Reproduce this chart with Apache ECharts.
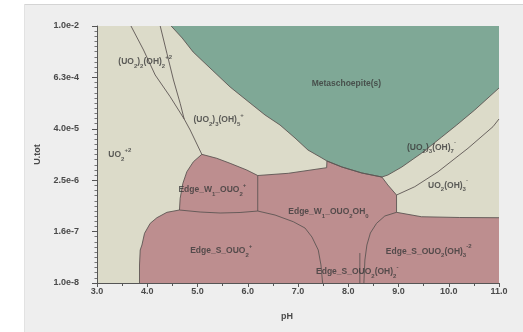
<!DOCTYPE html>
<html><head><meta charset="utf-8">
<script src="https://cdn.jsdelivr.net/npm/echarts@6/dist/echarts.min.js"></script>
<style>html,body{margin:0;padding:0;background:#ffffff;}#c{width:523px;height:332px;}</style>
</head><body><div id="c"></div>
<script>
// Axis ranges (x = pH, y = log10 of U.tot)
const xMin = 3, xMax = 11, xStep = 1;
const yMin = -8, yMax = -2, yStep = 1.2;
const yTickLabels = ['1.0e-8', '1.6e-7', '2.5e-6', '4.0e-5', '6.3e-4', '1.0e-2'];

// Boundary of Metaschoepite(s) field: [pH, log10 U]
const greenBoundary = [
  [4.476, -2.000], [4.695, -2.280], [4.913, -2.607], [5.291, -3.027], [5.649, -3.424],
  [6.046, -3.798], [6.344, -4.078], [6.642, -4.311], [6.940, -4.615], [7.198, -4.895],
  [7.476, -5.082], [7.576, -5.152], [7.874, -5.292], [8.272, -5.432], [8.669, -5.526],
  [8.788, -5.479], [9.066, -5.292], [9.463, -4.965], [9.861, -4.592], [10.159, -4.311],
  [10.517, -3.961], [11.000, -3.448]
];
// Outer boundary of the surface-complex (Edge_*) fields
const pinkBoundary = [
  [3.846, -8.000], [3.846, -7.580], [3.860, -7.230], [3.894, -7.113], [3.946, -6.840],
  [4.059, -6.607], [4.192, -6.476], [4.391, -6.350], [4.641, -6.296], [4.655, -6.023],
  [4.709, -5.673], [4.788, -5.402], [4.919, -5.168], [5.086, -4.996], [5.384, -5.089],
  [5.649, -5.206], [5.980, -5.362], [6.199, -5.491], [6.807, -5.439], [7.570, -5.308],
  [7.576, -5.152], [7.874, -5.292], [8.272, -5.432], [8.669, -5.526], [8.788, -5.712],
  [8.961, -5.946], [8.961, -6.350], [9.457, -6.453], [10.218, -6.471], [11.000, -6.476]
];
// Internal field boundaries
const lineUO2_UO235 = [[3.676, -2.000], [3.926, -2.560], [4.158, -3.144], [4.456, -3.651], [4.735, -4.171], [4.854, -4.428], [5.086, -4.996]];
const lineUO222 = [[4.258, -2.000], [4.391, -2.637], [4.522, -3.261], [4.655, -3.805], [4.735, -4.171]];
const lineUO237_OH3 = [[8.961, -5.946], [9.324, -5.752], [9.787, -5.402], [10.383, -4.855], [10.880, -4.351], [11.000, -4.171]];
const lineW1plus_W1OH = [[6.199, -5.491], [6.199, -6.320]];
const lineW1_S = [[4.641, -6.296], [5.053, -6.343], [5.450, -6.366], [5.847, -6.354], [6.199, -6.320]];
const lineS_left = [[6.199, -6.320], [6.543, -6.413], [6.906, -6.569], [7.139, -6.716], [7.278, -6.927], [7.403, -7.230], [7.457, -7.580], [7.490, -8.000]];
const lineS_right = [[8.961, -6.350], [8.728, -6.436], [8.563, -6.607], [8.440, -6.833], [8.371, -7.113], [8.331, -7.464], [8.311, -8.000]];
const lineS_sliver = [[8.231, -7.300], [8.231, -8.000]];

// Field labels: [pH, log10 U] of label's left edge, and rich text
const labelPos = [
  [3.425, -2.841], [4.919, -4.195], [3.225, -5.012], [7.272, -3.338],
  [9.170, -4.830], [9.589, -5.720], [4.621, -5.829], [4.854, -7.253],
  [6.807, -6.328], [8.748, -7.257], [7.359, -7.737]
];
const labelText = [
  '(UO{s|2}){s|2}(OH){s|2}{p|+2}',
  '(UO{s|2}){s|3}(OH){s|5}{p|+}',
  'UO{s|2}{p|+2}',
  'Metaschoepite(s)',
  '(UO{s|2}){s|3}(OH){s|7}{p|-}',
  'UO{s|2}(OH){s|3}{p|-}',
  'Edge_W{s|1}_OUO{s|2}{p|+}',
  'Edge_S_OUO{s|2}{p|+}',
  'Edge_W{s|1}_OUO{s|2}OH{s|0}',
  'Edge_S_OUO{s|2}(OH){s|3}{p|-2}',
  'Edge_S_OUO{s|2}(OH){s|2}{p|-}'
];

const FONT = 'Arial, "Liberation Sans", Helvetica, sans-serif';
const BEIGE = '#dcdbc9', GREEN = '#7fa896', PINK = '#bd8e8f', EDGE = '#5e5653';
const TXT = '#3a3a3a', AXT = '#4a4a4a';

const regions = [
  { pts: pinkBoundary.concat([[xMax, yMin]]), color: PINK },
  { pts: greenBoundary.concat([[xMax, yMax]]), color: GREEN }
];

const boundaryLines = [greenBoundary, pinkBoundary, lineUO2_UO235, lineUO222, lineUO237_OH3,
  lineW1plus_W1OH, lineW1_S, lineS_left, lineS_right, lineS_sliver];

const chart = echarts.init(document.getElementById('c'), null, { renderer: 'canvas' });

const series = [{
  type: 'custom', coordinateSystem: 'cartesian2d', silent: true, z: 1,
  data: regions.map((r, i) => [r.pts[0][0], r.pts[0][1], i]),
  renderItem: function (params, api) {
    const r = regions[params.dataIndex];
    return { type: 'polygon', shape: { points: r.pts.map(p => api.coord(p)) }, style: { fill: r.color } };
  }
}];
boundaryLines.forEach(function (ln) {
  series.push({
    type: 'line', data: ln, symbol: 'none', silent: true, z: 3,
    lineStyle: { color: EDGE, width: 0.9 }
  });
});
series.push({
  type: 'scatter', symbolSize: 0, silent: true, z: 5,
  data: labelPos.map((p, i) => ({ value: p, name: labelText[i] })),
  label: {
    show: true, position: 'right', distance: 0,
    formatter: function (p) { return p.name; },
    fontFamily: FONT, fontSize: 8.5, fontWeight: 'bold', color: TXT, lineHeight: 15,
    rich: {
      s: { fontFamily: FONT, fontSize: 6, fontWeight: 'bold', color: TXT, verticalAlign: 'bottom', lineHeight: 6 },
      p: { fontFamily: FONT, fontSize: 6, fontWeight: 'bold', color: TXT, verticalAlign: 'top', lineHeight: 6 }
    }
  }
});

chart.setOption({
  animation: false,
  backgroundColor: 'transparent',
  graphic: [
    { type: 'rect', z: -100, shape: { x: 24, y: 4, width: 499, height: 328 }, style: { fill: '#eeeeee' } },
    { type: 'line', z: -99, shape: { x1: 24, y1: 4.5, x2: 523, y2: 4.5 }, style: { stroke: '#d4d4d4', lineWidth: 1 } },
    { type: 'line', z: -99, shape: { x1: 24.5, y1: 4, x2: 24.5, y2: 332 }, style: { stroke: '#e2e2e2', lineWidth: 1 } }
  ],
  grid: { left: 97, right: 24, top: 26, bottom: 49, show: true, backgroundColor: BEIGE, borderWidth: 0 },
  xAxis: {
    type: 'value', min: xMin, max: xMax, interval: xStep,
    name: 'pH', nameLocation: 'middle', nameGap: 29,
    nameTextStyle: { fontFamily: FONT, fontSize: 9, fontWeight: 'bold', color: AXT, padding: [0, 22, 0, 0] },
    axisLine: { show: true, lineStyle: { color: '#555', width: 1 } },
    axisTick: { show: true, length: 4, lineStyle: { color: '#555' } },
    minorTick: { show: true, splitNumber: 2, length: 3, lineStyle: { color: '#555' } },
    splitLine: { show: false },
    axisLabel: { fontFamily: FONT, fontSize: 9, fontWeight: 'bold', color: AXT, margin: 4,
      formatter: function (v) { return v.toFixed(1); } }
  },
  yAxis: {
    type: 'value', min: yMin, max: yMax, interval: yStep,
    name: 'U.tot', nameLocation: 'middle', nameGap: 55, nameRotate: 90,
    nameTextStyle: { fontFamily: FONT, fontSize: 9, fontWeight: 'bold', color: AXT },
    axisLine: { show: true, lineStyle: { color: '#555', width: 1 } },
    axisTick: { show: true, length: 5, lineStyle: { color: '#555' } },
    minorTick: { show: true, splitNumber: 10, length: 2.5, lineStyle: { color: '#777' } },
    splitLine: { show: false },
    axisLabel: { fontFamily: FONT, fontSize: 9, fontWeight: 'bold', color: AXT, margin: 18,
      formatter: function (v) { return yTickLabels[Math.round((v - yMin) / yStep)] || ''; } }
  },
  series: series
});
</script></body></html>
